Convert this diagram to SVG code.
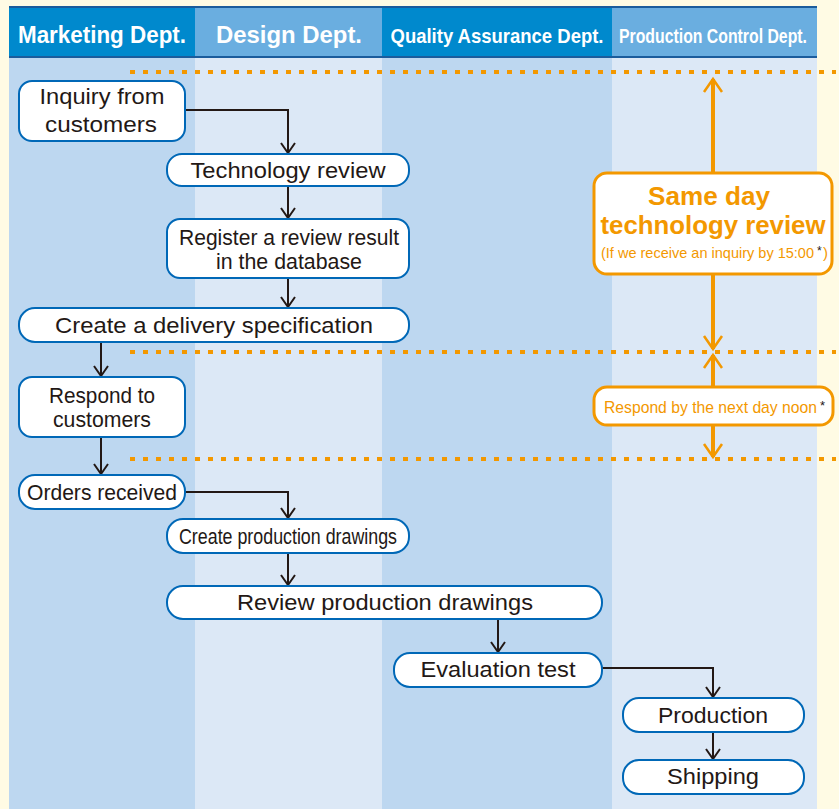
<svg xmlns="http://www.w3.org/2000/svg" width="839" height="809" viewBox="0 0 839 809">
<defs>
<style>
.bg{fill:#FFFBE4}
.colA{fill:#BDD7F0}
.colB{fill:#DCE8F6}
.hA{fill:#0089CD}
.hB{fill:#6AAEE0}
.hline{stroke:#1B5C9C;stroke-width:2}
.ht{font-family:"Liberation Sans",Arial,sans-serif;fill:#fff;font-weight:bold;text-anchor:middle}
.node rect{fill:#fff;stroke:#0068B7;stroke-width:2}
.nt{font-family:"Liberation Sans",Arial,sans-serif;fill:#231815;text-anchor:middle;font-size:22px}
.dash{stroke:#F39800;stroke-width:4;stroke-dasharray:5 8;fill:none}
.conn{stroke:#231815;stroke-width:2;fill:none}
.oline{stroke:#F39800;stroke-width:4;fill:none}
.obox rect{fill:#fff;stroke:#F39800;stroke-width:3}
.ot{font-family:"Liberation Sans",Arial,sans-serif;fill:#F39800;text-anchor:middle}
.os{font-family:"Liberation Sans",Arial,sans-serif;fill:#F39800;text-anchor:start}
.star{font-family:"Liberation Sans",Arial,sans-serif;fill:#231815;text-anchor:start}
</style>
<marker id="ah" markerUnits="userSpaceOnUse" markerWidth="20" markerHeight="20" refX="0" refY="0" viewBox="-10 -10 20 20" orient="auto" overflow="visible">
<path d="M-10,-7 L0,0 L-10,7" fill="none" stroke="#231815" stroke-width="2"/>
</marker>
<marker id="oah" markerUnits="userSpaceOnUse" markerWidth="24" markerHeight="24" refX="0" refY="0" viewBox="-12 -12 24 24" orient="auto" overflow="visible">
<path d="M-13,-9 L0,0 L-13,9" fill="none" stroke="#F39800" stroke-width="2.5"/>
</marker>
</defs>
<rect class="bg" x="0" y="0" width="839" height="809"/>
<g id="lanes">
<rect class="colA" x="9" y="57" width="186" height="752"/>
<rect class="colB" x="195" y="57" width="187" height="752"/>
<rect class="colA" x="382" y="57" width="230" height="752"/>
<rect class="colB" x="612" y="57" width="205" height="752"/>
<rect class="hA" x="9" y="7" width="186" height="50"/>
<rect class="hB" x="195" y="7" width="187" height="50"/>
<rect class="hA" x="382" y="7" width="230" height="50"/>
<rect class="hB" x="612" y="7" width="205" height="50"/>
<line class="hline" x1="9" y1="7" x2="817" y2="7"/>
<line class="hline" x1="9" y1="57" x2="817" y2="57"/>
<text class="ht" x="102" y="43" font-size="24" textLength="168" lengthAdjust="spacingAndGlyphs">Marketing Dept.</text>
<text class="ht" x="289" y="43" font-size="24" textLength="146" lengthAdjust="spacingAndGlyphs">Design Dept.</text>
<text class="ht" x="497" y="43" font-size="21" textLength="213" lengthAdjust="spacingAndGlyphs">Quality Assurance Dept.</text>
<text class="ht" x="713" y="43" font-size="21" font-weight="normal" textLength="188" lengthAdjust="spacingAndGlyphs">Production Control Dept.</text>
</g>
<g id="dividers">
<line class="dash" x1="130" y1="72" x2="836" y2="72"/>
<line class="dash" x1="130" y1="352" x2="836" y2="352"/>
<line class="dash" x1="130" y1="459" x2="836" y2="459"/>
</g>
<g id="connectors">
<path class="conn" d="M185,110 H288 V153" marker-end="url(#ah)"/>
<path class="conn" d="M288,186 V218" marker-end="url(#ah)"/>
<path class="conn" d="M288,278 V307" marker-end="url(#ah)"/>
<path class="conn" d="M101,342 V376" marker-end="url(#ah)"/>
<path class="conn" d="M101,437 V474" marker-end="url(#ah)"/>
<path class="conn" d="M185,492 H288 V518" marker-end="url(#ah)"/>
<path class="conn" d="M288,553 V585" marker-end="url(#ah)"/>
<path class="conn" d="M498,619 V652" marker-end="url(#ah)"/>
<path class="conn" d="M602,668 H713 V697" marker-end="url(#ah)"/>
<path class="conn" d="M713,732 V759" marker-end="url(#ah)"/>
<path class="oline" d="M713,173 V79" marker-end="url(#oah)"/>
<path class="oline" d="M713,275 V349" marker-end="url(#oah)"/>
<path class="oline" d="M713,387 V355" marker-end="url(#oah)"/>
<path class="oline" d="M713,425 V457" marker-end="url(#oah)"/>
</g>
<g id="n-inquiry" class="node">
<rect x="19" y="81" width="166" height="60" rx="13"/>
<text class="nt" x="102" y="104" textLength="125" lengthAdjust="spacingAndGlyphs">Inquiry from</text>
<text class="nt" x="101" y="132" textLength="112" lengthAdjust="spacingAndGlyphs">customers</text>
</g>
<g id="n-techreview" class="node">
<rect x="167" y="154" width="242" height="32" rx="15"/>
<text class="nt" x="288" y="178" textLength="195" lengthAdjust="spacingAndGlyphs">Technology review</text>
</g>
<g id="n-register" class="node">
<rect x="167" y="219" width="242" height="59" rx="13"/>
<text class="nt" x="289" y="245" font-size="20" textLength="220" lengthAdjust="spacingAndGlyphs">Register a review result</text>
<text class="nt" x="289" y="269" font-size="20" textLength="146" lengthAdjust="spacingAndGlyphs">in the database</text>
</g>
<g id="n-delivery" class="node">
<rect x="19" y="308" width="390" height="34" rx="16"/>
<text class="nt" x="214" y="333" textLength="318" lengthAdjust="spacingAndGlyphs">Create a delivery specification</text>
</g>
<g id="n-respond" class="node">
<rect x="19" y="377" width="166" height="60" rx="13"/>
<text class="nt" x="102" y="403" font-size="20" textLength="106" lengthAdjust="spacingAndGlyphs">Respond to</text>
<text class="nt" x="102" y="427" font-size="20" textLength="98" lengthAdjust="spacingAndGlyphs">customers</text>
</g>
<g id="n-orders" class="node">
<rect x="19" y="475" width="166" height="34" rx="16"/>
<text class="nt" x="102" y="500" textLength="150" lengthAdjust="spacingAndGlyphs">Orders received</text>
</g>
<g id="n-createdraw" class="node">
<rect x="167" y="519" width="242" height="34" rx="16"/>
<text class="nt" x="288" y="544" font-size="21" textLength="218" lengthAdjust="spacingAndGlyphs">Create production drawings</text>
</g>
<g id="n-reviewdraw" class="node">
<rect x="167" y="586" width="435" height="33" rx="16"/>
<text class="nt" x="385" y="610" textLength="296" lengthAdjust="spacingAndGlyphs">Review production drawings</text>
</g>
<g id="n-eval" class="node">
<rect x="394" y="653" width="208" height="34" rx="16"/>
<text class="nt" x="498" y="677" textLength="155" lengthAdjust="spacingAndGlyphs">Evaluation test</text>
</g>
<g id="n-production" class="node">
<rect x="623" y="698" width="181" height="34" rx="16"/>
<text class="nt" x="713" y="723" textLength="110" lengthAdjust="spacingAndGlyphs">Production</text>
</g>
<g id="n-shipping" class="node">
<rect x="623" y="760" width="181" height="34" rx="16"/>
<text class="nt" x="713" y="784" textLength="92" lengthAdjust="spacingAndGlyphs">Shipping</text>
</g>
<g id="n-sameday" class="obox">
<rect x="594" y="173" width="238" height="101" rx="13"/>
<text class="ot" x="709" y="205" font-size="26" font-weight="bold" textLength="122" lengthAdjust="spacingAndGlyphs">Same day</text>
<text class="ot" x="713" y="234" font-size="26" font-weight="bold" textLength="225" lengthAdjust="spacingAndGlyphs">technology review</text>
<text class="os" x="601" y="258" font-size="15" textLength="213" lengthAdjust="spacingAndGlyphs">(If we receive an inquiry by 15:00</text>
<text class="star" x="817" y="255" font-size="12">*</text>
<text class="os" x="823" y="258" font-size="15">)</text>
</g>
<g id="n-nextday" class="obox">
<rect x="594" y="387" width="239" height="38" rx="13"/>
<text class="os" x="604" y="413" font-size="17" textLength="213" lengthAdjust="spacingAndGlyphs">Respond by the next day noon</text>
<text class="star" x="820" y="410" font-size="13">*</text>
</g>
</svg>
